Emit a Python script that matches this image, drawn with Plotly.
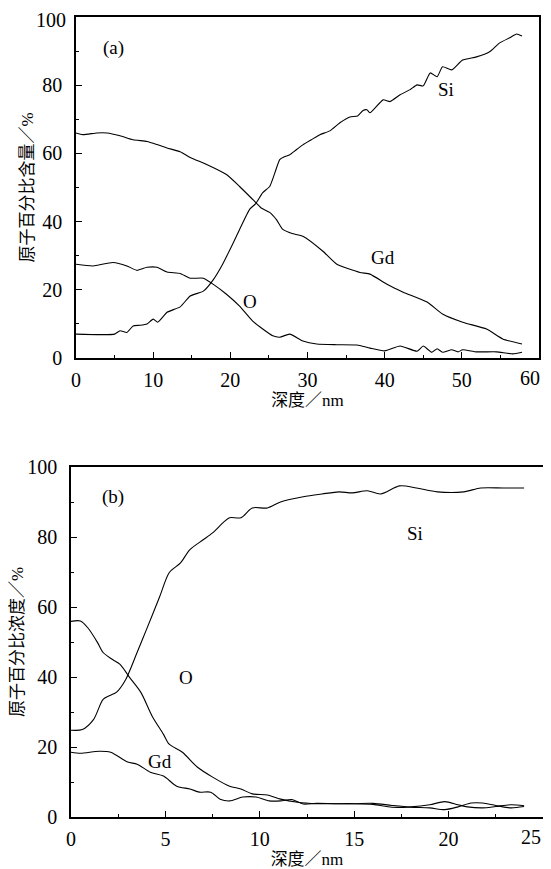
import plotly.graph_objects as go

# ---------- panel (a) ----------
a_si_x = [0, 5.0, 5.7, 6.6, 7.4, 8.3, 9.2, 10.0, 10.6, 11.8, 13.5, 14.8, 16.5, 17.8, 19.0, 20.4, 21.2, 22.5,
          23.3, 24.2, 25.1, 25.8, 26.4, 27.0, 27.7, 28.5, 29.4, 30.5, 31.6, 32.9, 34.2, 35.5, 36.5, 37.2, 37.7,
          38.1, 39.8, 40.7, 42.0, 43.3, 44.2, 45.0, 45.9, 46.8, 47.5, 48.7, 50.1, 51.9, 53.6, 54.9, 56.2, 57.1, 57.8]
a_si_y = [7, 7, 8, 7.5, 9.4, 9.6, 10, 11.4, 10.5, 13.4, 15, 18.2, 19.6, 23, 27.5, 33.9, 37.7, 43.6,
          45.3, 48.5, 50.3, 54.5, 58.2, 59.0, 59.6, 61.0, 62.5, 64.0, 65.5, 66.6, 69.0, 70.7, 71.0, 72.6, 72.8,
          71.9, 75.7, 75.2, 77.2, 78.7, 80.1, 79.8, 83.6, 82.5, 85.4, 84.5, 87.4, 88.3, 89.8, 92.4, 93.9, 95.0, 94.4]

a_gd_x = [0, 0.9, 2.7, 4.0, 5.7, 7.4, 9.2, 10.5, 11.8, 13.5, 14.8, 17.0, 19.5, 21.2, 22.9, 24.0, 25.1, 26.0,
          26.8, 28.0, 29.4, 32.0, 33.8, 36.8, 38.1, 40.3, 42.4, 45.5, 47.5, 50.1, 53.2, 55.3, 57.8]
a_gd_y = [66, 65.5, 66, 66, 65.2, 64, 63.5, 62.6, 61.6, 60.5, 58.8, 56.7, 53.8, 50.3, 46.5, 44.0, 42.7, 40.5,
          37.7, 36.5, 35.7, 31.3, 27.5, 25.1, 24.6, 21.6, 19.3, 16.4, 12.9, 10.5, 8.5, 5.6, 4.1]

a_o_x = [0, 2.2, 4.8, 6.6, 7.9, 9.2, 10.5, 11.8, 13.5, 14.8, 16.5, 17.8, 19.5, 21.2, 22.9, 24.2, 25.5, 26.4,
         27.7, 29.4, 31.2, 33.8, 36.4, 38.1, 40.0, 42.0, 44.2, 45.0, 46.1, 46.8, 47.5, 48.7, 49.5, 50.1, 51.9,
         54.5, 56.6, 57.8]
a_o_y = [27.5, 27, 28, 27, 25.7, 26.6, 26.6, 25.2, 24.8, 23.4, 23.4, 21.6, 18.7, 15.2, 10.8, 8.5, 6.5, 6.1,
         7.0, 5.0, 4.1, 3.9, 3.8, 2.9, 2.1, 3.5, 2.0, 3.5, 1.7, 2.7, 1.7, 2.4, 1.8, 2.4, 1.8,
         1.8, 1.2, 1.7]

# ---------- panel (b) ----------
b_si_x = [0, 0.6, 1.2, 1.7, 2.1, 2.4, 2.9, 3.5, 4.0, 4.7, 5.2, 5.8, 6.3, 7.0, 7.5, 8.1, 8.4, 9.0, 9.6, 10.4,
          11.1, 12.3, 13.3, 14.2, 14.9, 15.7, 16.4, 17.4, 18.3, 19.4, 20.8, 21.7, 22.9, 24.0]
b_si_y = [24.8, 25, 27.9, 33.6, 34.8, 35.6, 39.3, 47, 53.6, 63, 69.8, 72.6, 76.4, 79.2, 81.2, 84.3, 85.5, 85.5,
          88.3, 88.3, 90, 91.5, 92.3, 92.9, 92.6, 93.2, 92.3, 94.6, 94, 92.9, 92.9, 94, 94, 94]

b_o_x = [0, 0.5, 0.9, 1.4, 1.7, 2.2, 2.6, 3.1, 3.7, 4.3, 4.9, 5.2, 5.9, 6.7, 7.5, 8.4, 9.0, 9.6, 10.4, 11.1,
         12.0, 13.0, 14.0, 15.0, 16.0, 17.0, 18.0, 19.0, 19.8, 20.5, 21.0, 21.8, 22.5, 23.3, 24.0]
b_o_y = [55.9, 56, 54, 49.9, 47, 45, 43.6, 39.9, 35.6, 28.8, 23.6, 20.8, 18.5, 14.2, 11.4, 8.8, 8, 6.6, 6.3, 5.1,
         4.2, 3.8, 3.8, 3.8, 3.6, 2.8, 2.9, 3.5, 4.4, 3.5, 2.9, 2.6, 3.0, 3.5, 3.2]

b_gd_x = [0, 0.5, 1.5, 2.1, 3.0, 3.5, 4.2, 4.9, 5.6, 6.3, 6.8, 7.4, 7.9, 8.4, 9.1, 9.8, 10.5, 11.1, 11.7,
          12.3, 13.0, 14.0, 15.0, 16.0, 17.0, 18.0, 19.0, 19.8, 20.5, 21.2, 21.8, 22.5, 23.3, 24.0]
b_gd_y = [18.5, 18.2, 18.8, 18.5, 15.7, 15.1, 12.8, 11.7, 8.8, 8.0, 7.1, 7.1, 5.1, 4.6, 5.7, 5.7, 4.6, 4.6, 5.0,
          3.7, 3.9, 3.8, 3.8, 3.9, 3.3, 2.8, 2.6, 2.1, 2.9, 4.0, 4.0, 3.3, 2.6, 3.0]

a_x_ticks = [0, 10, 20, 30, 40, 50, 60]
b_x_ticks = [0, 5, 10, 15, 20, 25]
y_ticks = [0, 20, 40, 60, 80, 100]

FONT = "'Liberation Serif', 'DejaVu Serif', 'Noto Sans CJK SC', serif"
OFF = 8            # page body margin shifts the figure by this many pixels
W, H = 551, 869


def px_x(a, b):
    return [(a - OFF) / W, (b - OFF) / W]


def px_y(top, bottom):
    return [1 - (bottom - OFF) / H, 1 - (top - OFF) / H]


fig = go.Figure()
line = dict(color="black", width=1.1)
for xs, ys, nm in [(a_si_x, a_si_y, "Si"), (a_gd_x, a_gd_y, "Gd"), (a_o_x, a_o_y, "O")]:
    fig.add_trace(go.Scatter(x=xs, y=ys, mode="lines", name=nm, line=dict(line, shape="spline", smoothing=0.5),
                             xaxis="x", yaxis="y", showlegend=False))
for xs, ys, nm in [(b_si_x, b_si_y, "Si"), (b_o_x, b_o_y, "O"), (b_gd_x, b_gd_y, "Gd")]:
    fig.add_trace(go.Scatter(x=xs, y=ys, mode="lines", name=nm, line=dict(line, shape="spline", smoothing=0.8),
                             xaxis="x2", yaxis="y2", showlegend=False))

TICKFONT = dict(family=FONT, size=20, color="black")


def xa(dom, rng, ticks, minor, anchor):
    # last tick label is drawn as a right-aligned annotation so it stays inside the page
    texts = [str(t) for t in ticks[:-1]] + [""]
    return dict(domain=dom, range=rng, tickvals=ticks, ticktext=texts, anchor=anchor, showgrid=False,
                zeroline=False, automargin=False, ticklabeloverflow="allow",
                showline=True, linecolor="black", linewidth=1.6, mirror=True,
                ticks="inside", ticklen=6, tickwidth=1.4, tickcolor="black",
                minor=dict(ticks="inside", ticklen=3, tickwidth=1.2, tickcolor="black", dtick=minor, tick0=0,
                           showgrid=False),
                tickfont=TICKFONT, ticklabelstandoff=3,
                title=dict(text="深度／nm", font=dict(family=FONT, size=17, color="black"), standoff=4))


def ya(dom, anchor, title, hide_top=False):
    texts = [str(t) for t in y_ticks]
    if hide_top:
        texts[-1] = ""
    return dict(domain=dom, range=[0, 100], tickvals=y_ticks, ticktext=texts, anchor=anchor, showgrid=False,
                zeroline=False, automargin=False, ticklabeloverflow="allow",
                showline=True, linecolor="black", linewidth=1.6, mirror=True,
                ticks="inside", ticklen=6, tickwidth=1.4, tickcolor="black",
                minor=dict(ticks="inside", ticklen=3, tickwidth=1.2, tickcolor="black", dtick=10, tick0=0,
                           showgrid=False),
                tickfont=TICKFONT, ticklabelstandoff=8,
                title=dict(text=title, font=dict(family=FONT, size=17, color="black"), standoff=4))


fig.update_layout(
    template="none",
    width=W, height=H, margin=dict(l=0, r=0, t=0, b=0, autoexpand=False),
    paper_bgcolor="white", plot_bgcolor="white",
    xaxis=xa(px_x(76, 539), [0, 60], a_x_ticks, 5, "y"),
    yaxis=ya(px_y(17, 358), "x", "原子百分比含量／%", hide_top=True),
    xaxis2=xa(px_x(71, 543), [0, 25], b_x_ticks, 2.5, "y2"),
    yaxis2=ya(px_y(467, 817), "x2", "原子百分比浓度／%"),
)

# last x tick labels and the top y label of panel (a), kept inside the page
fig.add_annotation(xref="x", yref="y", x=a_x_ticks[-1], y=0, text=str(a_x_ticks[-1]), showarrow=False,
                   xanchor="right", yanchor="top", xshift=3, yshift=-7, font=TICKFONT)
fig.add_annotation(xref="x2", yref="y2", x=b_x_ticks[-1], y=0, text=str(b_x_ticks[-1]), showarrow=False,
                   xanchor="right", yanchor="top", xshift=0, yshift=-7, font=TICKFONT)
fig.add_annotation(xref="x", yref="y", x=0, y=y_ticks[-1], text=str(y_ticks[-1]), showarrow=False,
                   xanchor="right", yanchor="top", xshift=-8, yshift=10, font=TICKFONT)

tf = dict(family=FONT, size=19, color="black")
anns = [
    ("x", "y", 4.8, 91, "(a)"), ("x", "y", 48, 78.7, "Si"), ("x", "y", 39.8, 29.5, "Gd"), ("x", "y", 22.5, 16.7, "O"),
    ("x2", "y2", 2.2, 91.5, "(b)"), ("x2", "y2", 18.2, 81, "Si"), ("x2", "y2", 6.1, 40, "O"), ("x2", "y2", 4.7, 16, "Gd"),
]
for xr, yr, x, y, t in anns:
    fig.add_annotation(xref=xr, yref=yr, x=x, y=y, text=t, showarrow=False, font=tf)

fig.write_html("out.html")
